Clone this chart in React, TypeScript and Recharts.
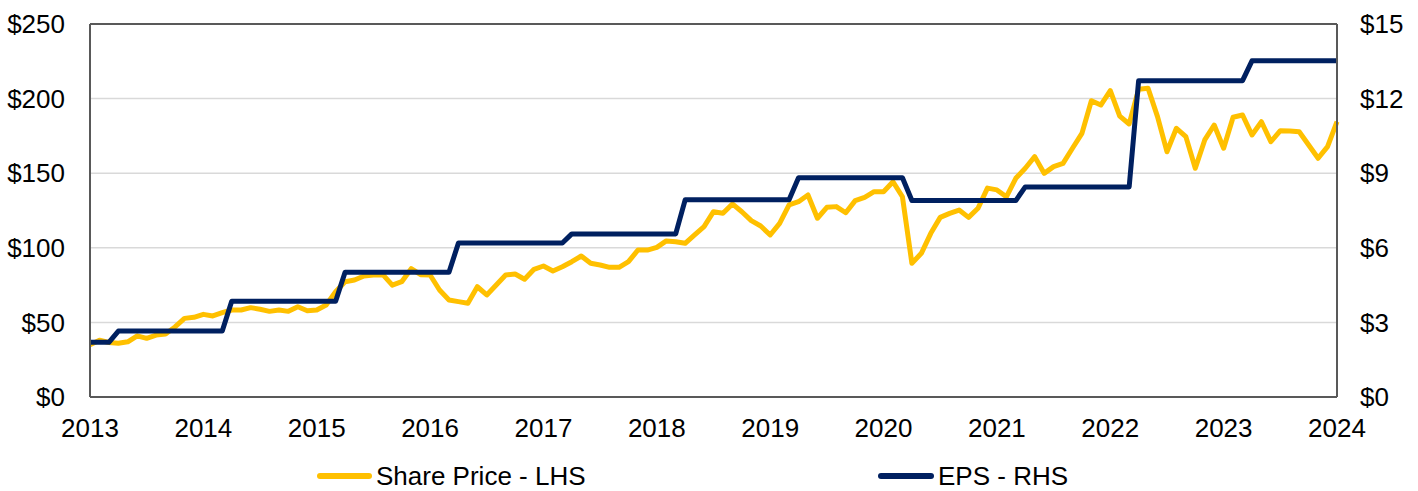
import React from "react";
import { LineChart, Line, XAxis, YAxis, CartesianGrid, ReferenceLine } from "recharts";

// Monthly share price, Jan 2013 .. Jan 2024 (LHS, $)
const sharePrice: number[] = [
  35, 38, 36.5, 36, 37, 41, 39.3, 41.5, 42.2, 47, 52.7, 53.4,
  55.4, 54.3, 56.5, 58.3, 58.3, 59.9, 58.8, 57.4, 58.3, 57.4, 60.5, 57.8,
  58.3, 61.7, 70.6, 77.3, 78.4, 81.1, 81.8, 82, 75, 77.3, 86, 82,
  81.8, 71.7, 65, 63.9, 62.8, 73.9, 68.4, 75.1, 81.8, 82.4, 78.9, 85.6,
  87.8, 84.5, 87.3, 90.7, 94.5, 89.6, 88.5, 86.9, 86.9, 90.7, 98.5, 98.5,
  100.3, 104.6, 104.1, 103, 108.6, 114.2, 124.2, 123.1, 129.4, 124.2, 118.2, 114.6,
  108.6, 116.4, 128.7, 130.9, 135.4, 119.8, 127.1, 127.6, 123.5, 131.6, 133.8, 137.6,
  137.6, 144.3, 134.2, 89.6, 96.3, 109.7, 120.4, 123.1, 125.3, 120.4, 126.5, 140,
  138.8, 134.2, 146.6, 153.3, 161.1, 149.9, 154.4, 156.6, 166.7, 176.7, 198.6, 195.7,
  205.3, 188.3, 183, 206.2, 206.9, 187.9, 164.4, 180.1, 174.5, 153.3, 172.3, 182.3,
  166.7, 187.5, 189, 175.6, 184.5, 171.1, 178.5, 178.3, 177.8, 168.9, 160, 167.8,
  184.5,
];

// EPS levels (RHS, $) and the month index from which each level applies
const epsLevels: number[] = [2.2, 2.65, 3.85, 5.02, 6.19, 6.56, 7.93, 8.82, 7.9, 8.45, 12.72, 13.52];
const epsStartMonth: number[] = [0, 3, 15, 27, 39, 51, 63, 75, 87, 99, 111, 123];

const yearLabels: string[] = ["2013", "2014", "2015", "2016", "2017", "2018", "2019", "2020", "2021", "2022", "2023", "2024"];
const yearTickMonths: number[] = [0, 12, 24, 36, 48, 60, 72, 84, 96, 108, 120, 132];

const leftTicks: number[] = [0, 50, 100, 150, 200, 250];
const rightTicks: number[] = [0, 3, 6, 9, 12, 15];

const seriesNames = { price: "Share Price - LHS", eps: "EPS - RHS" };
const colors = { price: "#FFC000", eps: "#002060" };

const data = sharePrice.map((p, i) => {
  let lvl = 0;
  for (let k = 0; k < epsStartMonth.length; k++) if (i >= epsStartMonth[k]) lvl = k;
  return { m: i, price: p, eps: epsLevels[lvl] };
});

const FONT = "'Liberation Sans', Arial, sans-serif";
const tickStyle = { fill: "#000", fontSize: 26, fontFamily: FONT };

const legendItemStyle: React.CSSProperties = {
  position: "absolute",
  top: 466,
  height: 20,
  display: "flex",
  alignItems: "center",
  fontFamily: FONT,
  fontSize: 26,
  lineHeight: "20px",
  color: "#000",
  whiteSpace: "nowrap",
};

export default function App() {
  return (
    <div style={{ position: "absolute", left: 0, top: 0, width: 1418, height: 491, background: "#fff" }}>
      <LineChart width={1418} height={491} data={data} margin={{ top: 24, right: 0, bottom: 0, left: 0 }}>
        <CartesianGrid yAxisId="left" horizontal={true} vertical={false} stroke="#d9d9d9" strokeWidth={1.5} />
        <XAxis
          dataKey="m"
          type="number"
          domain={[0, 132]}
          ticks={yearTickMonths}
          tickFormatter={(v: number) => yearLabels[yearTickMonths.indexOf(v)]}
          height={94}
          tickLine={false}
          tickSize={0}
          tickMargin={22}
          stroke="#595959"
          strokeWidth={2}
          tick={tickStyle}
          interval={0}
        />
        <YAxis
          yAxisId="left"
          orientation="left"
          domain={[0, 250]}
          ticks={leftTicks}
          tickFormatter={(v: number) => `$${v}`}
          width={90}
          tickLine={false}
          tickSize={0}
          tickMargin={25}
          stroke="#595959"
          strokeWidth={2}
          tick={tickStyle}
          interval={0}
        />
        <YAxis
          yAxisId="right"
          orientation="right"
          domain={[0, 15]}
          ticks={rightTicks}
          tickFormatter={(v: number) => `$${v}`}
          width={81}
          tickLine={false}
          tickSize={0}
          tickMargin={23}
          stroke="#595959"
          strokeWidth={2}
          tick={{ ...tickStyle, textAnchor: "start" }}
          interval={0}
        />
        <ReferenceLine yAxisId="left" y={250} stroke="#595959" strokeWidth={2} />
        <Line
          yAxisId="left"
          dataKey="price"
          name={seriesNames.price}
          stroke={colors.price}
          strokeWidth={5}
          dot={false}
          strokeLinejoin="round"
          isAnimationActive={false}
        />
        <Line
          yAxisId="right"
          dataKey="eps"
          name={seriesNames.eps}
          stroke={colors.eps}
          strokeWidth={5}
          dot={false}
          strokeLinejoin="round"
          isAnimationActive={false}
        />
      </LineChart>
      <div style={{ ...legendItemStyle, left: 317 }}>
        <span style={{ display: "inline-block", width: 55, height: 6, borderRadius: 3, background: colors.price, marginRight: 4 }} />
        <span>{seriesNames.price}</span>
      </div>
      <div style={{ ...legendItemStyle, left: 878 }}>
        <span style={{ display: "inline-block", width: 56, height: 6, borderRadius: 3, background: colors.eps, marginRight: 4 }} />
        <span>{seriesNames.eps}</span>
      </div>
    </div>
  );
}
